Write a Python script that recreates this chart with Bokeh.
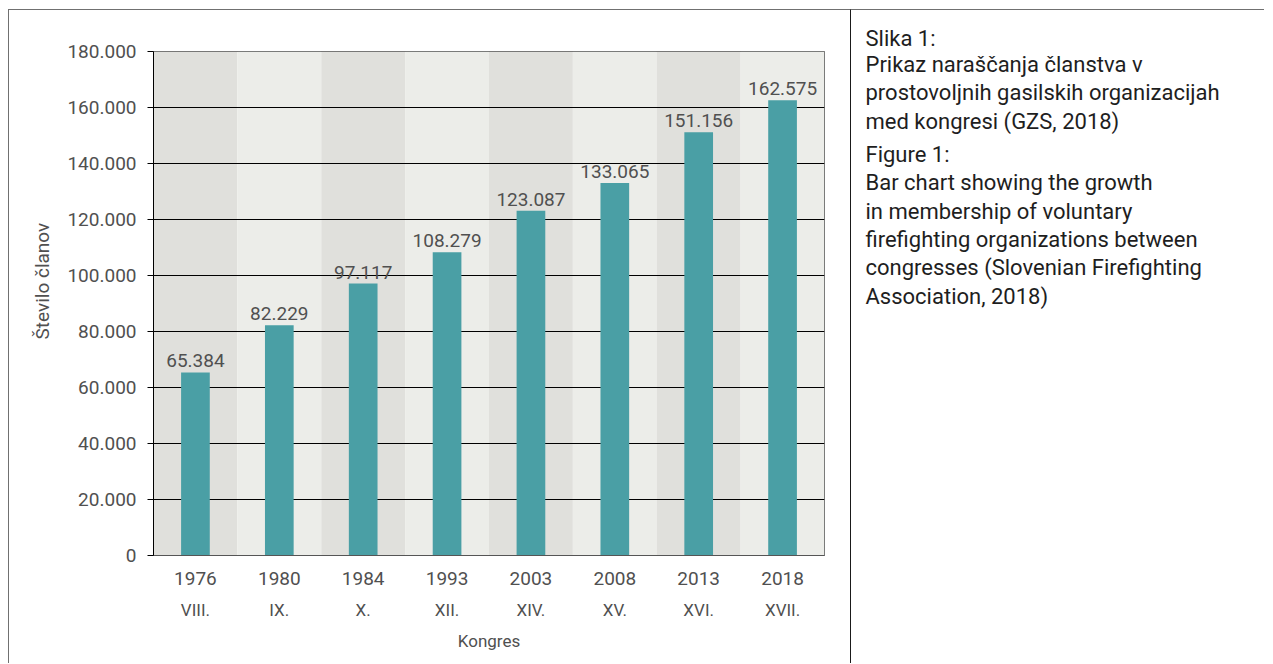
from bokeh.plotting import figure
from bokeh.layouts import row
from bokeh.models import CategoricalAxis, FactorRange, Range1d, LabelSet, ColumnDataSource, Title
from bokeh.core.properties import value
from bokeh.embed import file_html
from bokeh.resources import INLINE

# ---- data ----
years = ["1976", "1980", "1984", "1993", "2003", "2008", "2013", "2018"]
congresses = ["VIII.", "IX.", "X.", "XII.", "XIV.", "XV.", "XVI.", "XVII."]
members = [65384, 82229, 97117, 108279, 123087, 133065, 151156, 162575]
y_ticks = [0, 20000, 40000, 60000, 80000, 100000, 120000, 140000, 160000, 180000]
y_max = 180000
y_title = "Število članov"
x_title = "Kongres"

caption_sl = ["Slika 1:",
              "Prikaz naraščanja članstva v",
              "prostovoljnih gasilskih organizacijah",
              "med kongresi (GZS, 2018)"]
caption_en = ["Figure 1:",
              "Bar chart showing the growth",
              "in membership of voluntary",
              "firefighting organizations between",
              "congresses (Slovenian Firefighting",
              "Association, 2018)"]


def fmt(v):
    return f"{v:,}".replace(",", ".")


FONT = "Roboto"
TXT = "#505050"
band_colors = ["#e0e0dc" if i % 2 == 0 else "#ecede9" for i in range(len(years))]

H = 654
B_TOP, B_BOT = 41, 109

# ---- chart ----
p = figure(x_range=FactorRange(*years), y_range=Range1d(0, y_max),
           width=842, height=H,
           min_border_left=144, min_border_right=27,
           min_border_top=B_TOP, min_border_bottom=B_BOT,
           output_backend="svg", toolbar_location=None)
p.styles = {"border-top": "1px solid #707070", "border-left": "1px solid #707070",
            "margin-left": "8px", "margin-top": "9px"}
p.x_range.range_padding = 0
p.extra_x_ranges["roman"] = FactorRange(*congresses)
p.extra_x_ranges["roman"].range_padding = 0
p.outline_line_color = "#555555"
p.background_fill_color = "white"

p.vbar(x=years, top=[y_max] * len(years), width=1.0, color=band_colors,
       line_color=None, level="image")
p.vbar(x=years, top=members, width=0.342, color="#4a9fa5", line_color=None)
p.text(x=years, y=members, text=[fmt(m) for m in members],
       text_align="center", text_baseline="bottom", y_offset=-5,
       text_font=value(FONT), text_font_size="19px", text_color=TXT)

p.xgrid.visible = False
p.ygrid.grid_line_color = "black"
p.ygrid.grid_line_width = 1

ya = p.yaxis[0]
ya.ticker = y_ticks
ya.major_label_overrides = {t: fmt(t) for t in y_ticks}
ya.axis_line_color = "black"
ya.major_tick_line_color = "black"
ya.major_tick_out = 6
ya.major_tick_in = 0
ya.minor_tick_line_color = None
ya.major_label_standoff = 11
ya.major_label_text_font = FONT
ya.major_label_text_font_size = "19px"
ya.major_label_text_color = TXT

# y-axis title as a side title, sitting a little above the frame centre
p.add_layout(Title(text=y_title, align="left", offset=216, standoff=21,
                   text_font=FONT, text_font_size="19px", text_font_style="normal",
                   text_color=TXT), "left")

xa = p.xaxis[0]
xa.axis_line_color = "#555555"
xa.major_tick_line_color = None
xa.minor_tick_line_color = None
xa.major_label_standoff = 10
xa.major_label_text_font = FONT
xa.major_label_text_font_size = "19px"
xa.major_label_text_color = TXT

xa2 = CategoricalAxis(x_range_name="roman",
                      axis_line_color=None, major_tick_line_color=None,
                      minor_tick_line_color=None, major_label_standoff=6,
                      major_label_text_font=FONT, major_label_text_font_size="17px",
                      major_label_text_color=TXT,
                      axis_label=x_title, axis_label_text_font=FONT,
                      axis_label_text_font_size="17px",
                      axis_label_text_font_style="normal",
                      axis_label_text_color=TXT, axis_label_standoff=8)
p.add_layout(xa2, "below")

# ---- caption panel (data y == canvas pixel y) ----
W2 = 414
q = figure(width=W2, height=H, x_range=Range1d(0, W2), y_range=Range1d(H - B_BOT, B_TOP),
           min_border_left=0, min_border_right=0,
           min_border_top=B_TOP, min_border_bottom=B_BOT,
           x_axis_location=None, y_axis_location=None,
           toolbar_location=None, output_backend="svg")
q.styles = {"border-top": "1px solid #707070", "border-left": "1px solid #1a1a1a",
            "margin-top": "9px"}
q.outline_line_color = None
q.grid.visible = False

# first caption line sits above the frame, so it goes in as a title
q.add_layout(Title(text=caption_sl[0], align="left", offset=14, standoff=2,
                   text_font="Roboto", text_font_size="22px", text_font_style="normal",
                   text_color="#1e1e1e"), "above")

rest = caption_sl[1:] + caption_en
line_h = 28.3
gap = 5
ys = []
y = 33.3 + line_h
for i, _ in enumerate(rest):
    if i == len(caption_sl) - 1:
        y += gap
    ys.append(y)
    y += line_h
src = ColumnDataSource(dict(x=[14] * len(rest), y=ys, t=rest))
q.add_layout(LabelSet(x="x", y="y", text="t", source=src,
                      text_baseline="alphabetic", text_align="left",
                      text_font=value("Roboto"), text_font_size="22px",
                      text_color="#1e1e1e"))

layout = row(p, q)
open("out.html", "w").write(file_html(layout, INLINE))
